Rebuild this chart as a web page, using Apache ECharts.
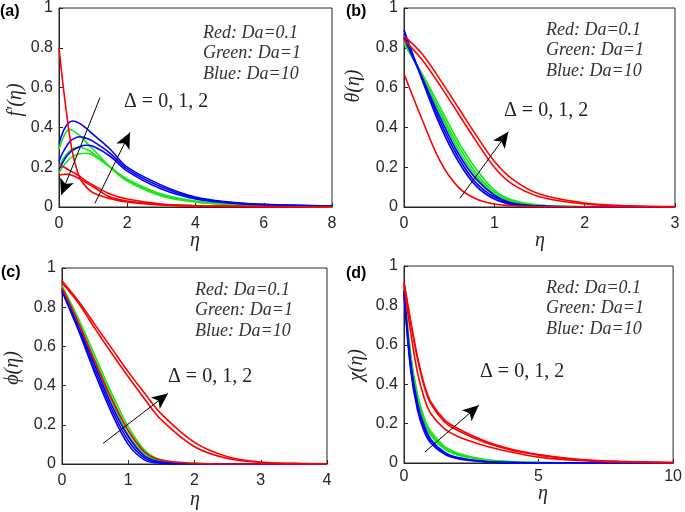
<!DOCTYPE html>
<html>
<head>
<meta charset="utf-8">
<script src="https://cdn.jsdelivr.net/npm/echarts@6/dist/echarts.min.js"></script>
<style>html,body{margin:0;padding:0;background:#fff;}#c{width:685px;height:512px;}</style>
</head>
<body>
<div id="c"></div>
<script>
// ---------- data ----------
// (a) f'(eta)
const xsA = [0, 0.1, 0.2, 0.3, 0.4, 0.6, 0.8, 1, 1.5, 2, 3, 4, 5, 6, 8];
const aRed = [
  [0.8, 0.64, 0.5, 0.37, 0.27, 0.15, 0.1, 0.072, 0.042, 0.025, 0.01, 0.005, 0.003, 0.002, 0.001],
  [0.21, 0.205, 0.195, 0.185, 0.175, 0.155, 0.13, 0.11, 0.065, 0.04, 0.015, 0.007, 0.004, 0.002, 0.001],
  [0.16, 0.163, 0.165, 0.163, 0.158, 0.142, 0.122, 0.102, 0.05, 0.03, 0.012, 0.005, 0.003, 0.002, 0.001]
];
const aGreen = [
  [0.29, 0.34, 0.375, 0.39, 0.385, 0.36, 0.325, 0.29, 0.2, 0.13, 0.055, 0.025, 0.012, 0.006, 0.002],
  [0.2, 0.235, 0.26, 0.28, 0.293, 0.3, 0.29, 0.27, 0.2, 0.135, 0.06, 0.027, 0.013, 0.006, 0.002],
  [0.17, 0.2, 0.22, 0.24, 0.253, 0.268, 0.27, 0.26, 0.2, 0.14, 0.065, 0.03, 0.015, 0.007, 0.002]
];
const aBlue = [
  [0.32, 0.37, 0.405, 0.425, 0.432, 0.42, 0.395, 0.365, 0.29, 0.2, 0.11, 0.05, 0.025, 0.013, 0.005],
  [0.23, 0.27, 0.3, 0.325, 0.34, 0.353, 0.345, 0.33, 0.27, 0.19, 0.1, 0.045, 0.022, 0.012, 0.004],
  [0.19, 0.22, 0.25, 0.27, 0.285, 0.303, 0.31, 0.305, 0.255, 0.18, 0.09, 0.04, 0.02, 0.01, 0.004]
];
// (b) theta(eta)
const xsB = [0, 0.2, 0.4, 0.6, 0.8, 1.0, 1.2, 1.5, 2, 2.5, 3];
const bRed = [
  [0.67, 0.44, 0.23, 0.1, 0.04, 0.015, 0.006, 0.002, 0.001, 0, 0],
  [0.86, 0.77, 0.64, 0.5, 0.36, 0.23, 0.14, 0.065, 0.02, 0.006, 0.002],
  [0.84, 0.74, 0.61, 0.47, 0.33, 0.2, 0.115, 0.052, 0.015, 0.004, 0.001]
];
const bGreen = [
  [0.82, 0.67, 0.5, 0.33, 0.19, 0.085, 0.035, 0.01, 0.002, 0, 0],
  [0.83, 0.66, 0.48, 0.31, 0.17, 0.075, 0.03, 0.008, 0.001, 0, 0],
  [0.84, 0.66, 0.47, 0.29, 0.155, 0.065, 0.025, 0.006, 0.001, 0, 0]
];
const bBlue = [
  [0.85, 0.65, 0.45, 0.27, 0.14, 0.06, 0.02, 0.005, 0.001, 0, 0],
  [0.87, 0.65, 0.43, 0.25, 0.12, 0.05, 0.016, 0.004, 0, 0, 0],
  [0.89, 0.64, 0.41, 0.23, 0.105, 0.04, 0.012, 0.003, 0, 0, 0]
];
// (c) phi(eta)
const xsC = [0, 0.25, 0.5, 0.75, 1, 1.25, 1.5, 2, 2.5, 3, 3.5, 4];
const cRed = [
  [0.9, 0.72, 0.52, 0.33, 0.17, 0.06, 0.02, 0.003, 0, 0, 0, 0],
  [0.935, 0.83, 0.71, 0.59, 0.47, 0.36, 0.255, 0.11, 0.037, 0.01, 0.003, 0.001],
  [0.925, 0.82, 0.69, 0.565, 0.445, 0.33, 0.225, 0.088, 0.028, 0.008, 0.002, 0.001]
];
const cGreen = [
  [0.91, 0.74, 0.55, 0.36, 0.19, 0.07, 0.02, 0.003, 0, 0, 0, 0],
  [0.9, 0.72, 0.53, 0.34, 0.17, 0.06, 0.015, 0.002, 0, 0, 0, 0],
  [0.9, 0.71, 0.51, 0.32, 0.15, 0.05, 0.012, 0.001, 0, 0, 0, 0]
];
const cBlue = [
  [0.89, 0.7, 0.5, 0.3, 0.14, 0.04, 0.01, 0.001, 0, 0, 0, 0],
  [0.89, 0.69, 0.48, 0.28, 0.12, 0.03, 0.006, 0, 0, 0, 0, 0],
  [0.88, 0.68, 0.46, 0.26, 0.1, 0.02, 0.004, 0, 0, 0, 0, 0]
];
// (d) chi(eta)
const xsD = [0, 0.25, 0.5, 0.75, 1, 1.5, 2, 3, 4, 5, 6, 7, 8, 10];
const dRed = [
  [0.9, 0.66, 0.46, 0.33, 0.25, 0.175, 0.135, 0.088, 0.055, 0.03, 0.017, 0.009, 0.005, 0.001],
  [0.92, 0.72, 0.54, 0.4, 0.31, 0.22, 0.175, 0.112, 0.07, 0.043, 0.025, 0.014, 0.008, 0.002],
  [0.915, 0.71, 0.53, 0.39, 0.3, 0.21, 0.165, 0.105, 0.065, 0.04, 0.023, 0.013, 0.007, 0.002]
];
const dGreen = [
  [0.89, 0.55, 0.35, 0.23, 0.16, 0.085, 0.05, 0.018, 0.007, 0.003, 0.001, 0, 0, 0],
  [0.885, 0.54, 0.34, 0.22, 0.15, 0.078, 0.045, 0.016, 0.006, 0.002, 0.001, 0, 0, 0],
  [0.88, 0.53, 0.33, 0.21, 0.14, 0.07, 0.04, 0.014, 0.005, 0.002, 0.001, 0, 0, 0]
];
const dBlue = [
  [0.88, 0.51, 0.305, 0.19, 0.12, 0.055, 0.028, 0.008, 0.002, 0.001, 0, 0, 0, 0],
  [0.87, 0.49, 0.29, 0.175, 0.11, 0.05, 0.025, 0.007, 0.002, 0, 0, 0, 0, 0],
  [0.86, 0.47, 0.27, 0.16, 0.1, 0.045, 0.022, 0.006, 0.002, 0, 0, 0, 0, 0]
];
// axis ranges / ticks
const xMax = [8, 3, 4, 10];
const xStep = [2, 1, 1, 5];
// arrows (data coordinates): [x1, y1, x2(tip), y2(tip)]
const arrowsA = [[1.20, 0.549, 0.06, 0.06], [1.05, 0.018, 2.08, 0.375]];
const arrowsB = [[0.62, 0.044, 1.155, 0.378]];
const arrowsC = [[0.62, 0.105, 1.60, 0.36]];
const arrowsD = [[0.78, 0.056, 2.78, 0.293]];
// texts
const panelTags = ['(a)', '(b)', '(c)', '(d)'];
const yNames = ['f\u2032(\u03b7)', '\u03b8(\u03b7)', '\u03d5(\u03b7)', '\u03c7(\u03b7)'];
const xName = '\u03b7';
const legendLines = ['Red: Da=0.1', 'Green: Da=1', 'Blue: Da=10'];
const deltaText = '\u0394 = 0, 1, 2';

// ---------- layout ----------
const grids = [
  {left: 59, top: 8, width: 273, height: 199},
  {left: 404, top: 8, width: 271, height: 199},
  {left: 62, top: 268, width: 265, height: 196},
  {left: 404, top: 266, width: 270, height: 197}
];
const AX = '#262626';
const COLORS = {red: '#ff0000', green: '#17e617', blue: '#0000ff'};
const panels = [
  {xs: xsA, red: aRed, green: aGreen, blue: aBlue, arrows: arrowsA},
  {xs: xsB, red: bRed, green: bGreen, blue: bBlue, arrows: arrowsB},
  {xs: xsC, red: cRed, green: cGreen, blue: cBlue, arrows: arrowsC},
  {xs: xsD, red: dRed, green: dGreen, blue: dBlue, arrows: arrowsD}
];
const xLabelMargin = [9, 9, 9, 6];

const xAxes = [], yAxes = [], series = [];
panels.forEach((p, i) => {
  const common = {gridIndex: i, min: 0, axisLine: {show: true, onZero: false, lineStyle: {color: AX, width: 1}},
    axisTick: {show: true, inside: true, length: 4, lineStyle: {color: AX}}, splitLine: {show: false}};
  xAxes.push(Object.assign({}, common, {type: 'value', position: 'bottom', max: xMax[i], interval: xStep[i],
    axisLabel: {color: AX, fontSize: 16, fontFamily: 'Liberation Sans', margin: xLabelMargin[i]}}));
  yAxes.push(Object.assign({}, common, {type: 'value', position: 'left', max: 1, interval: 0.2,
    axisLabel: {color: AX, fontSize: 16, fontFamily: 'Liberation Sans', margin: 6}}));
  ['green', 'blue', 'red'].forEach(col => {
    p[col].forEach(ys => {
      series.push({
        type: 'line', xAxisIndex: i, yAxisIndex: i, showSymbol: false, smooth: 0.35,
        lineStyle: {color: COLORS[col], width: 1.6}, itemStyle: {color: COLORS[col]},
        data: p.xs.map((x, j) => [x, ys[j]]), silent: true, z: 3
      });
    });
  });
  series.push({
    type: 'line', xAxisIndex: i, yAxisIndex: i, data: [], silent: true, z: 5,
    markLine: {
      silent: true, animation: false, symbolSize: [11, 16], precision: 4,
      label: {show: false},
      lineStyle: {color: '#000', width: 1, type: 'solid'},
      emphasis: {disabled: true},
      data: p.arrows.map(a => [
        {coord: [a[0], a[1]], symbol: 'none'},
        {coord: [a[2], a[3]], symbol: 'arrow'}
      ])
    }
  });
});

// ---------- graphic texts ----------
const tagPos = [[0, 13], [346, 13], [1, 274], [346, 275]];
const yNamePos = [[16, 100], [354, 86], [13, 368], [357, 365]];
const xNamePos = [[195, 241], [540, 241], [195, 500], [543, 494]];
const legendPos = [[203, 33], [546, 30], [195, 290], [546, 288]];
const deltaPos = [[124, 102], [504, 111], [168, 377], [480, 372]];
const graphic = [];
for (let i = 0; i < 4; i++) {
  graphic.push({type: 'text', left: tagPos[i][0], top: tagPos[i][1] - 9,
    style: {text: panelTags[i], font: 'bold 16px "Liberation Sans"', fill: '#000'}});
  graphic.push({type: 'text', x: yNamePos[i][0], y: yNamePos[i][1], rotation: Math.PI / 2,
    style: {text: yNames[i], font: 'italic 20px "Liberation Serif"', fill: AX, align: 'center', verticalAlign: 'middle'}});
  graphic.push({type: 'text', x: xNamePos[i][0], y: xNamePos[i][1],
    style: {text: xName, font: 'italic 20px "Liberation Serif"', fill: AX, align: 'center', verticalAlign: 'middle'}});
  legendLines.forEach((t, k) => {
    graphic.push({type: 'text', x: legendPos[i][0], y: legendPos[i][1] + k * 20.5,
      style: {text: t, font: 'italic 18px "Liberation Serif"', fill: '#333', align: 'left', verticalAlign: 'middle'}});
  });
  graphic.push({type: 'text', x: deltaPos[i][0], y: deltaPos[i][1],
    style: {text: deltaText, font: '20px "Liberation Serif"', fill: '#222', align: 'left', verticalAlign: 'middle'}});
}

const chart = echarts.init(document.getElementById('c'), null, {renderer: 'canvas'});
chart.setOption({
  animation: false,
  backgroundColor: '#fff',
  grid: grids.map(g => Object.assign({containLabel: false, show: true, borderColor: AX, borderWidth: 1, backgroundColor: 'transparent'}, g)),
  xAxis: xAxes,
  yAxis: yAxes,
  series: series,
  graphic: graphic
});
</script>
</body>
</html>
